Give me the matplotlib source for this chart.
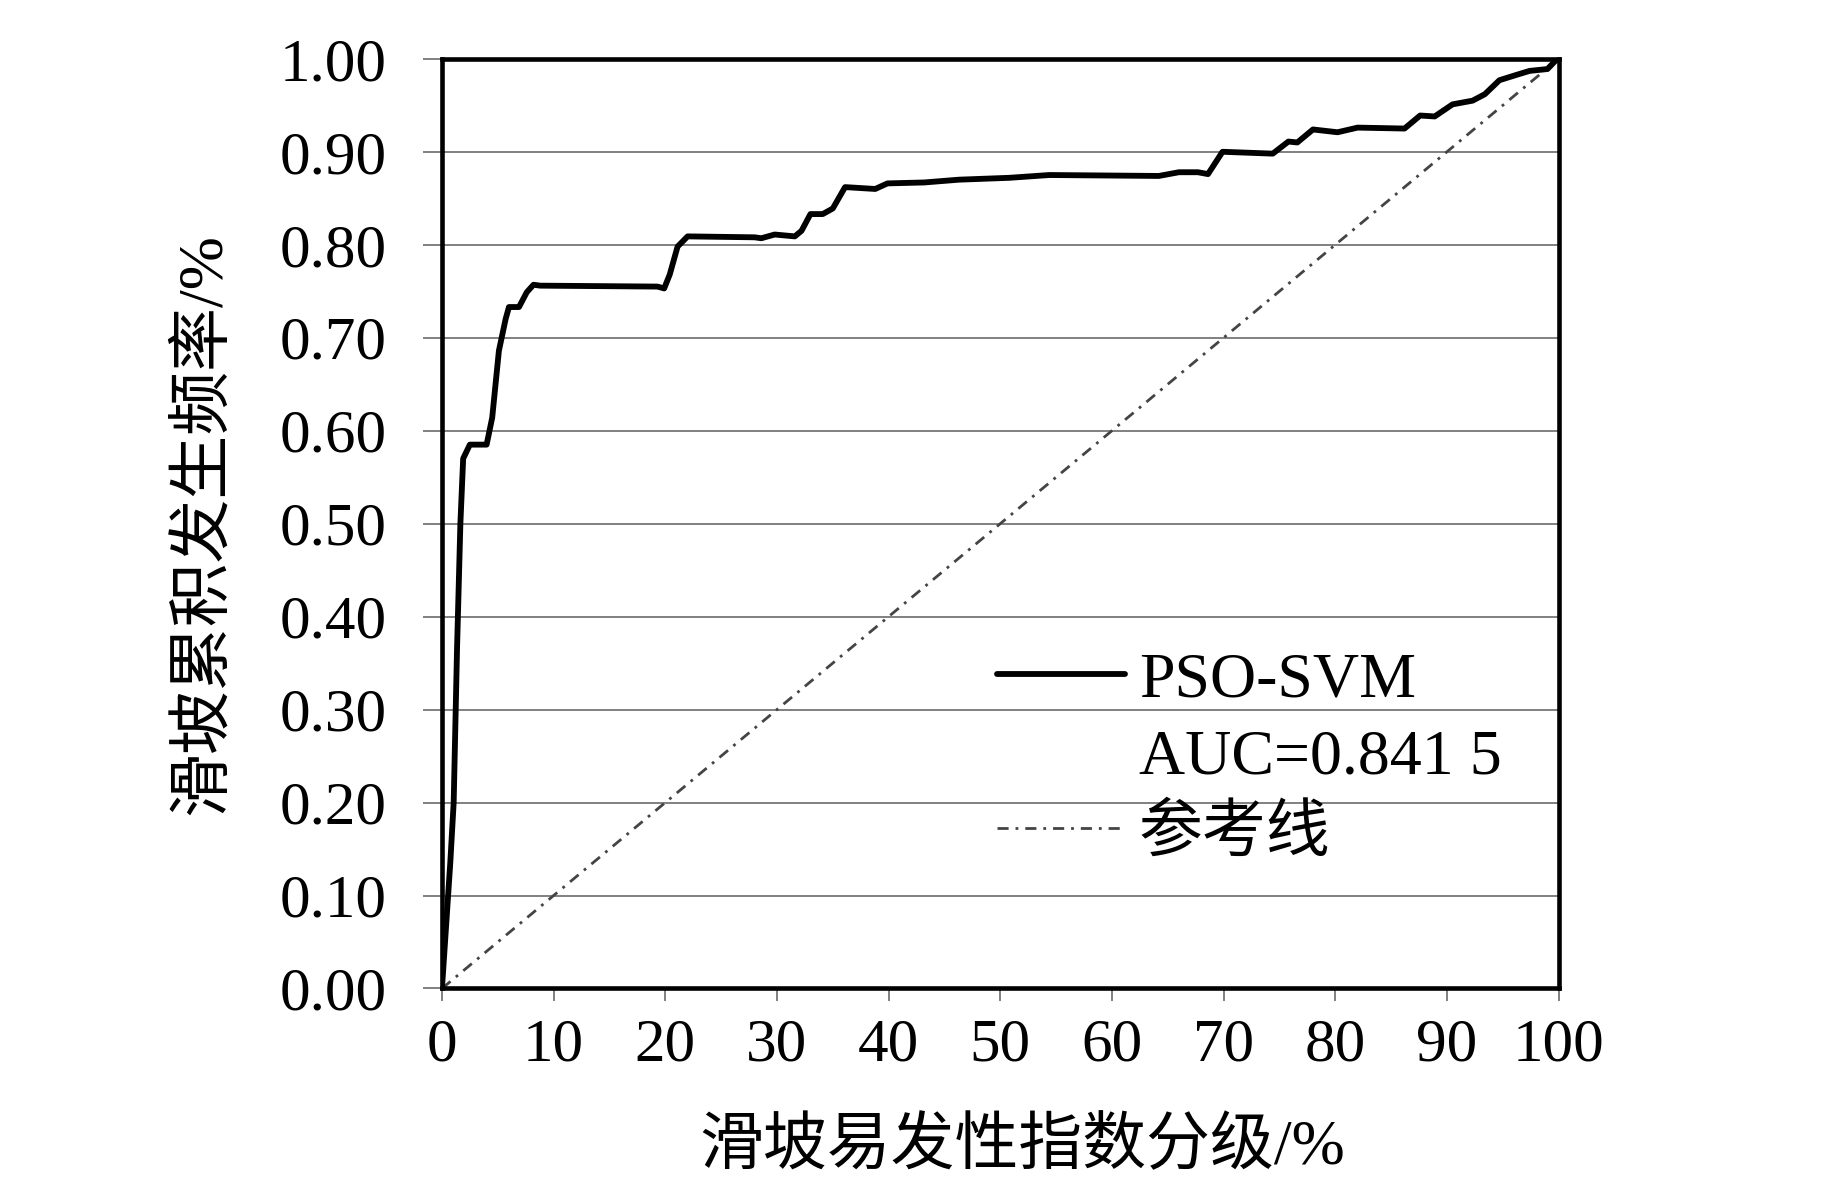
import matplotlib
matplotlib.use("Agg")
import matplotlib.pyplot as plt
from matplotlib.lines import Line2D
import numpy as np

# ---- data ----
x_index = [0, 0.75, 1.05, 1.35, 1.65, 1.9, 2.5, 3.4, 4.0, 4.5, 5.1, 5.7, 6.0, 6.9,
           7.6, 8.2, 8.8, 19.3, 19.9, 20.4, 21.1, 22.0, 28.0, 28.6, 29.8, 31.6,
           32.2, 33.0, 34.1, 35.0, 36.1, 38.8, 39.9, 43.2, 46.3, 50.8, 54.4, 64.2,
           66.0, 67.7, 68.6, 69.9, 74.4, 75.8, 76.6, 78.0, 80.2, 82.0, 86.2, 87.6,
           88.9, 90.5, 92.3, 93.4, 94.7, 96.3, 97.4, 99.0, 99.8, 100]
y_freq = [0, 0.136, 0.20, 0.365, 0.50, 0.57, 0.585, 0.585, 0.585, 0.614, 0.686, 0.72,
          0.733, 0.733, 0.749, 0.757, 0.756, 0.755, 0.753, 0.768, 0.798, 0.809, 0.808,
          0.807, 0.811, 0.809, 0.815, 0.833, 0.833, 0.839, 0.862, 0.860, 0.866, 0.867,
          0.870, 0.872, 0.875, 0.874, 0.878, 0.878, 0.876, 0.900, 0.898, 0.911, 0.910,
          0.924, 0.921, 0.926, 0.925, 0.939, 0.938, 0.951, 0.955, 0.962, 0.977, 0.983,
          0.987, 0.989, 0.999, 1.0]
ref_x = [0, 100]
ref_y = [0, 1]
x_ticks = list(range(0, 101, 10))
y_ticks = [round(0.1 * i, 1) for i in range(11)]
legend_labels = ["PSO-SVM", "AUC=0.841 5", "参考线"]
xlabel = "滑坡易发性指数分级/%"
ylabel = "滑坡累积发生频率/%"

fam = ["Liberation Serif", "Noto Sans CJK SC", "DejaVu Sans"]
plt.rcParams["font.family"] = fam

fig = plt.figure(figsize=(18.43, 11.81), dpi=100)
ax = fig.add_axes([0.2398, 0.163, 0.8457 - 0.2398, 0.9502 - 0.163])

ax.set_xlim(0, 100)
ax.set_ylim(0, 1)
ax.set_yticks(y_ticks)
ax.set_xticks(x_ticks)
ax.set_yticklabels([f"{v:.2f}" for v in y_ticks])
ax.grid(axis="y", color="#808080", linewidth=1.4, zorder=0)
ax.set_axisbelow(True)

ref_line, = ax.plot(ref_x, ref_y, color="#444444", linewidth=2.0,
                    dashes=(4, 2.5, 1, 2.5), zorder=2)
main_line, = ax.plot(x_index, y_freq, color="black", linewidth=4.2,
                     solid_joinstyle="round", solid_capstyle="round", zorder=3)

for s in ax.spines.values():
    s.set_linewidth(3.3)
    s.set_color("black")
    s.set_zorder(4)

ax.tick_params(axis="y", length=14, width=1.4, color="#808080", pad=26,
               labelsize=44)
ax.tick_params(axis="x", length=9, width=1.4, color="#808080", pad=12,
               labelsize=44)

ax.set_ylabel(ylabel, fontsize=46)
ax.yaxis.set_label_coords(-0.186, 0.50)
ax.set_xlabel(xlabel, fontsize=46)
ax.xaxis.set_label_coords(0.52, -0.14)

blank = Line2D([], [], linestyle="none")
leg = ax.legend([main_line, blank, ref_line], legend_labels,
                loc="upper left", bbox_to_anchor=(0.497, 0.362),
                frameon=False, fontsize=46, handlelength=2.0,
                handletextpad=0.22, labelspacing=0.28, borderpad=0,
                borderaxespad=0)

fig.savefig("out.png", dpi=100, facecolor="white")
